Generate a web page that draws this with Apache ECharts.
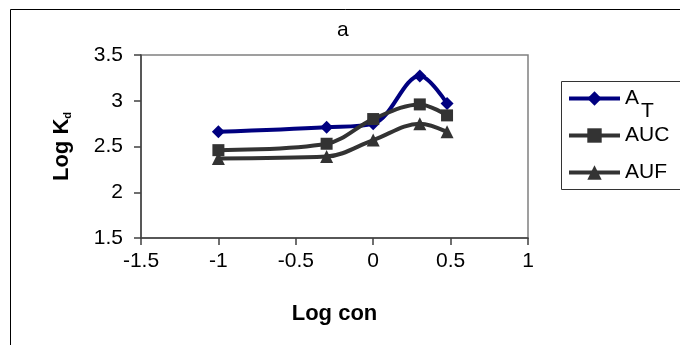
<!DOCTYPE html>
<html>
<head>
<meta charset="utf-8">
<script src="https://cdn.jsdelivr.net/npm/echarts@6/dist/echarts.min.js"></script>
<style>
html,body{margin:0;padding:0;background:#fff;}
#c{width:680px;height:345px;}
</style>
</head>
<body>
<div id="c"></div>
<script>
var logCon = [-1, -0.301, 0, 0.301, 0.477];
var seriesNames = ['AT', 'AUC', 'AUF'];
var valuesAT = [2.66, 2.71, 2.75, 3.27, 2.97];
var valuesAUC = [2.46, 2.53, 2.80, 2.96, 2.84];
var valuesAUF = [2.37, 2.39, 2.57, 2.75, 2.66];
var xTicks = [-1.5, -1, -0.5, 0, 0.5, 1];
var yTicks = [1.5, 2, 2.5, 3, 3.5];

function pairs(xs, ys) { return xs.map(function (x, i) { return [x, ys[i]]; }); }

var FONT = '"Liberation Sans", Arial, sans-serif';
var chart = echarts.init(document.getElementById('c'), null, {renderer: 'canvas'});

function mkSeries(name, vals, color, symbol, size) {
  return {
    name: name, type: 'line', data: pairs(logCon, vals),
    smooth: 0.35, symbol: symbol, symbolSize: size,
    lineStyle: {color: color, width: 4},
    itemStyle: {color: color},
    emphasis: {disabled: true}
  };
}

chart.setOption({
  animation: false,
  backgroundColor: '#fff',
  title: {
    text: 'a', left: 337, top: 20, padding: 0,
    textStyle: {fontFamily: FONT, fontSize: 21, fontWeight: 'normal', color: '#000'}
  },
  grid: {
    left: 141, right: 152, top: 55, bottom: 107,
    show: true, borderColor: '#808080', borderWidth: 1.5, backgroundColor: 'transparent'
  },
  legend: {
    orient: 'vertical', left: 567, top: 75, padding: 0,
    itemWidth: 51, itemHeight: 18, itemGap: -10,
    data: seriesNames,
    lineStyle: {width: 4},
    formatter: function (n) {
      if (n === 'AT') return '{a|A}{t|T}';
      return '{n|' + n + '}';
    },
    textStyle: {
      fontFamily: FONT, fontSize: 21, color: '#000',
      rich: {
        a: {fontFamily: FONT, fontSize: 21, color: '#000', lineHeight: 20, padding: [13, 0, 13, 0]},
        t: {fontFamily: FONT, fontSize: 21, color: '#000', lineHeight: 20, padding: [26, 0, 0, 2]},
        n: {fontFamily: FONT, fontSize: 21, color: '#000', lineHeight: 20, padding: [13, 0, 13, 0]}
      }
    }
  },
  xAxis: {
    type: 'value', min: -1.5, max: 1, interval: 0.5,
    name: 'Log con', nameLocation: 'middle', nameGap: 65,
    nameTextStyle: {fontFamily: FONT, fontSize: 22, fontWeight: 'bold', color: '#000'},
    axisLine: {show: true, onZero: false, lineStyle: {color: '#404040', width: 1.5}},
    axisTick: {show: true, inside: false, length: 7, lineStyle: {color: '#404040', width: 1.5}},
    axisLabel: {fontFamily: FONT, fontSize: 21, color: '#000', margin: 13,
      formatter: function (v) { return String(v); }},
    splitLine: {show: false}
  },
  yAxis: {
    type: 'value', min: 1.5, max: 3.5, interval: 0.5,
    name: 'Log K{sub|d}', nameLocation: 'middle', nameGap: 68, nameRotate: 90,
    nameTextStyle: {fontFamily: FONT, fontSize: 22, fontWeight: 'bold', color: '#000',
      rich: {sub: {fontFamily: FONT, fontSize: 11, fontWeight: 'bold', color: '#000', verticalAlign: 'bottom', padding: [8, 0, 0, 0]}}},
    axisLine: {show: true, onZero: false, lineStyle: {color: '#404040', width: 1.5}},
    axisTick: {show: true, inside: false, length: 7, lineStyle: {color: '#404040', width: 1.5}},
    axisLabel: {fontFamily: FONT, fontSize: 21, color: '#000', margin: 18,
      formatter: function (v) { return String(v); }},
    splitLine: {show: false}
  },
  graphic: [
    {type: 'rect', silent: true, z: -10, shape: {x: 10.5, y: 9.5, width: 720, height: 400},
      style: {fill: 'none', stroke: '#000', lineWidth: 1}},
    {type: 'rect', silent: true, z: -10, shape: {x: 561.5, y: 81.5, width: 160, height: 108},
      style: {fill: 'none', stroke: '#333', lineWidth: 1}}
  ],
  series: [
    mkSeries('AT', valuesAT, '#000080', 'diamond', 13),
    mkSeries('AUC', valuesAUC, '#333333', 'rect', 12),
    mkSeries('AUF', valuesAUF, '#333333', 'triangle', 13)
  ]
});
</script>
</body>
</html>
